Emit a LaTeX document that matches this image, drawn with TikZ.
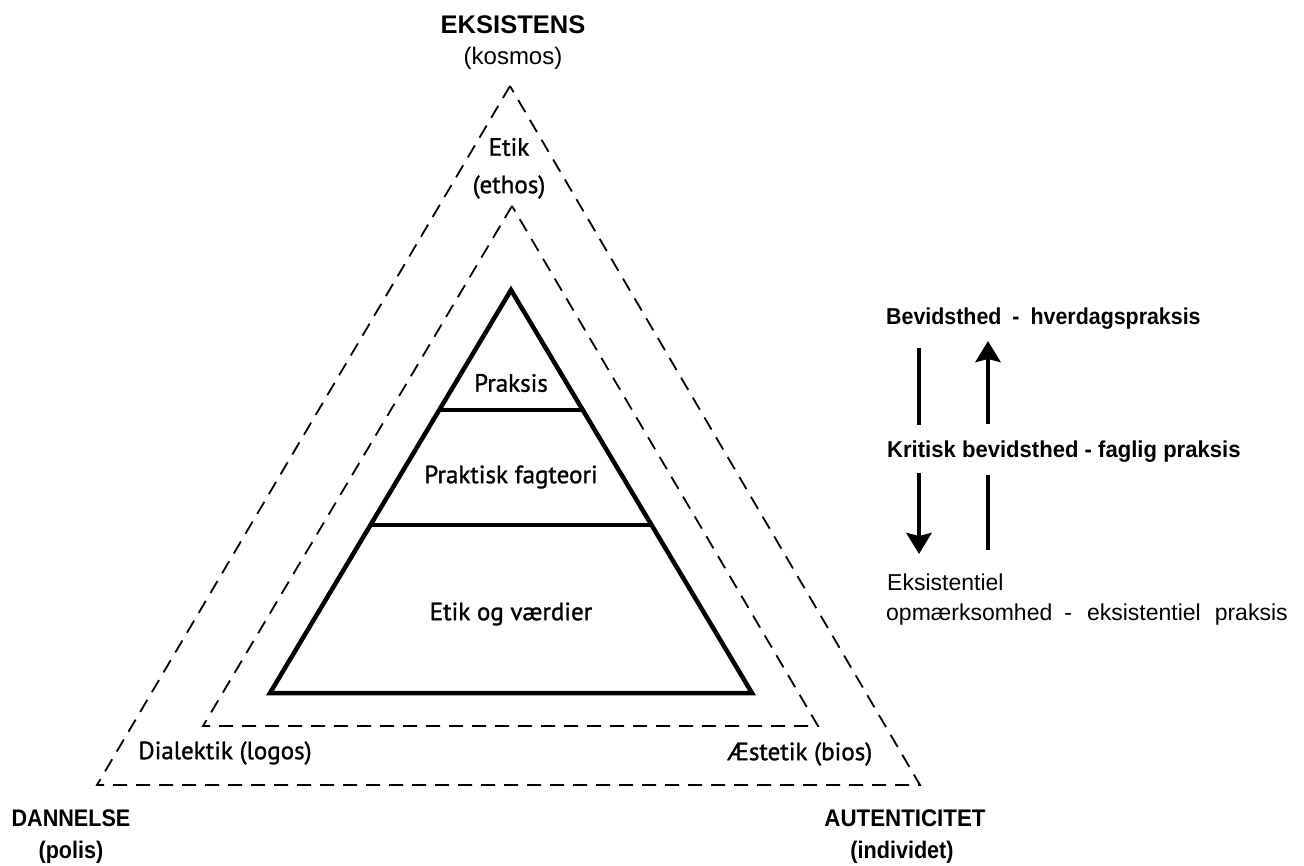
\documentclass[tikz,border=0pt]{standalone}
\usepackage{fontspec}
\setmainfont{Liberation Sans}
\newfontfamily\hum[FakeBold=1.2]{PT Sans}
\newfontfamily\condA[FakeStretch=0.9]{Liberation Sans}
\newfontfamily\condB[FakeStretch=0.93]{Liberation Sans}
\newfontfamily\condC[FakeStretch=0.96]{Liberation Sans}
\usetikzlibrary{arrows.meta,calc}
\begin{document}
\begin{tikzpicture}[x=1pt,y=-1pt,
  dashline/.style={line width=1.8pt,dash pattern=on 14pt off 9pt},
  pyr/.style={line width=4.5pt,line join=miter},
  layer/.style={line width=3.5pt},
  ar/.style={line width=4.5pt},
  arh/.style={ar,-{Stealth[length=21pt,width=25pt,inset=3pt]}},
  big/.style={font=\fontsize{25.5}{28}\selectfont\bfseries,inner sep=0pt},
  corner/.style={font=\condA\fontsize{24}{28}\selectfont\bfseries,inner sep=0pt},
  cornerw/.style={font=\condB\fontsize{24}{28}\selectfont\bfseries,inner sep=0pt},
  sub/.style={font=\fontsize{24}{28}\selectfont,inner sep=0pt},
  lab/.style={font=\hum\fontsize{25}{28}\selectfont,inner sep=0pt},
  rb/.style={font=\condB\fontsize{23}{26}\selectfont\bfseries,inner sep=0pt,anchor=west},
  rbk/.style={font=\condC\fontsize{23}{26}\selectfont\bfseries,inner sep=0pt,anchor=west},
  rr/.style={font=\fontsize{23}{26}\selectfont,inner sep=0pt,anchor=west}]
\useasboundingbox (0,0) rectangle (1304,865);
% outer triangle
\coordinate (oa) at (510,86);
\coordinate (ol) at (97,785);
\coordinate (or) at (920,785);
\draw[dashline] (oa) -- (ol) -- (or) -- cycle;
% middle triangle
\coordinate (ma) at (512,206);
\coordinate (ml) at (203,726);
\coordinate (mr) at (818,726);
\draw[dashline] (ma) -- (ml) -- (mr) -- cycle;
% pyramid
\coordinate (pa) at (511,290);
\coordinate (pl) at (270,693);
\coordinate (pr) at (752,693);
\draw[pyr] (pa) -- (pl) -- (pr) -- cycle;
\coordinate (l1a) at ($(pa)!0.2978!(pl)$);
\coordinate (l1b) at ($(pa)!0.2978!(pr)$);
\coordinate (l2a) at ($(pa)!0.5831!(pl)$);
\coordinate (l2b) at ($(pa)!0.5831!(pr)$);
\draw[layer] (l1a) -- (l1b);
\draw[layer] (l2a) -- (l2b);
% pyramid labels
\node[lab] (praksis) at (511,383) {Praksis};
\node[lab] (fagteori) at (511,477) {Praktisk fagteori};
\node[lab] (etikv) at (511,614) {Etik og værdier};
% triangle labels
\node[lab] (etik) at (509,147) {Etik};
\node[lab] (ethos) at (509,187) {(ethos)};
\node[lab] (dial) at (225,753) {Dialektik (logos)};
\node[lab] (aest) at (800,754) {Æstetik (bios)};
% corner labels
\node[big] (eks) at (513,25) {EKSISTENS};
\node[sub] (kos) at (513,58) {(kosmos)};
\node[corner] (dan) at (71,818) {DANNELSE};
\node[corner] (pol) at (71,852) {(polis)};
\node[cornerw] (aut) at (905,818) {AUTENTICITET};
\node[corner] (ind) at (902,852) {(individet)};
% right side
\node[rb] (bev) at (886,319) {Bevidsthed\hspace{11pt}-\hspace{11pt}hverdagspraksis};
\node[rbk] (krit) at (887,452) {Kritisk bevidsthed - faglig praksis};
\node[rr] (eksi) at (887,582) {Eksistentiel};
\node[rr] (opm) at (886,615) {opmærksomhed\hspace{12pt}-\hspace{15pt}eksistentiel\hspace{14pt}praksis};
\coordinate (a1t) at (919,348);
\coordinate (a1b) at (919,425);
\coordinate (a2b) at (988,424);
\coordinate (a2t) at (988,341);
\coordinate (a3t) at (919,473);
\coordinate (a3b) at (919,554);
\coordinate (a4t) at (988,475);
\coordinate (a4b) at (988,550);
\draw[ar] (a1t) -- (a1b);
\draw[arh] (a2b) -- (a2t);
\draw[arh] (a3t) -- (a3b);
\draw[ar] (a4t) -- (a4b);
\end{tikzpicture}
\end{document}
